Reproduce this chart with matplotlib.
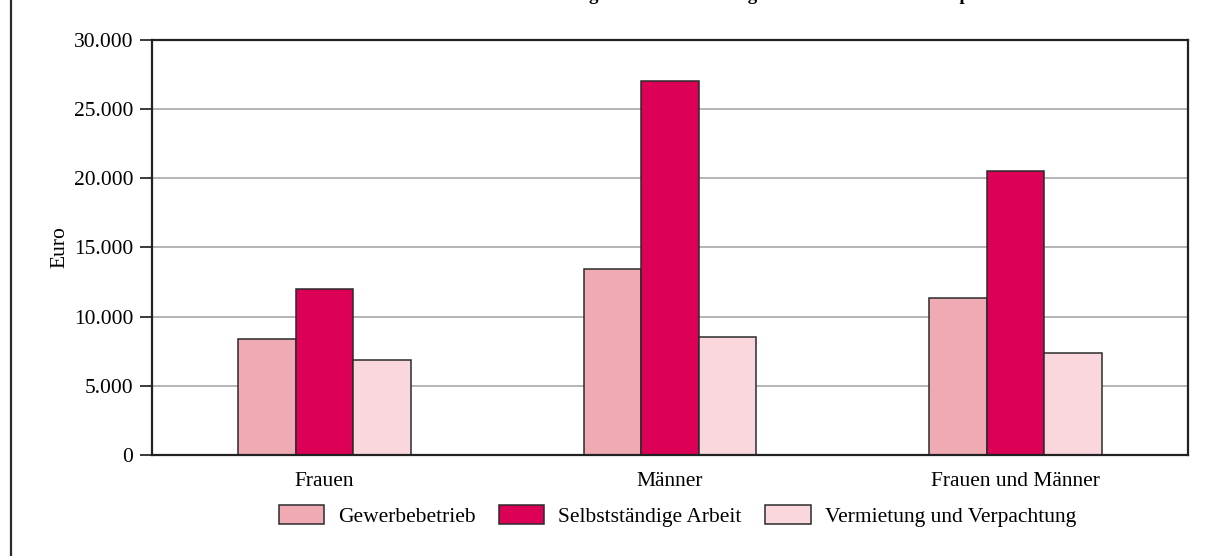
import matplotlib.pyplot as plt
import matplotlib.lines as mlines
from matplotlib.ticker import FuncFormatter
import numpy as np

plt.rcParams['font.family'] = ['Liberation Serif', 'DejaVu Serif']

# data (Euro)
groups = ["Frauen", "Männer", "Frauen und Männer"]
series_names = ["Gewerbebetrieb", "Selbstständige Arbeit", "Vermietung und Verpachtung"]
gewerbe = [8400, 13450, 11370]
selbst = [12000, 27050, 20550]
vermietung = [6870, 8530, 7350]
colors = ["#EFAAB4", "#DC0057", "#F9D7DD"]
title = "Durchschnittlicher Betrag der Einkünfte ausgewählter Einkunftsarten pro Steuerfall"

fig = plt.figure(figsize=(12.05, 5.56), dpi=100)
ax = fig.add_axes([0.1261, 0.1817, 0.8598, 0.7464])

x = np.arange(len(groups))
w = 1 / 6
for i, (vals, name) in enumerate(zip([gewerbe, selbst, vermietung], series_names)):
    ax.bar(x + (i - 1) * w, vals, width=w, color=colors[i], edgecolor="#2b2b2b",
           linewidth=1.1, label=name, zorder=3)

ax.set_xlim(-0.5, 2.5)
ax.set_ylim(0, 30000)
ax.set_yticks(np.arange(0, 30001, 5000))
ax.yaxis.set_major_formatter(FuncFormatter(lambda v, p: f"{int(v):,}".replace(",", ".")))
ax.set_xticks(x)
ax.set_xticklabels(groups, fontsize=15.5)
ax.tick_params(axis="x", length=0, pad=12)
ax.tick_params(axis="y", length=8.6, width=1.3, color="#2b2b2b", labelsize=15.5, pad=5)
ax.yaxis.grid(True, color="#a8a8a8", linewidth=1.2, zorder=0)
for s in ax.spines.values():
    s.set_color("#222222")
    s.set_linewidth(1.6)
ax.spines["bottom"].set_zorder(4)
ax.set_ylabel("Euro", fontsize=15.5, labelpad=3)

ax.legend(loc="center", bbox_to_anchor=(0.562, 0.072), bbox_transform=fig.transFigure,
          ncol=3, frameon=False, fontsize=15.5, handlelength=2.1, handleheight=1.0,
          handletextpad=0.65, columnspacing=1.1)

# title cut off at the top edge, only descenders visible
fig.text(0.605, 1.0, title, ha="center", va="baseline", fontsize=13.6, fontweight="bold")

# left border line
fig.add_artist(mlines.Line2D([0.0088, 0.0088], [0, 1], color="#2b2b2b", linewidth=1.6))

fig.savefig("out.png", dpi=100)
